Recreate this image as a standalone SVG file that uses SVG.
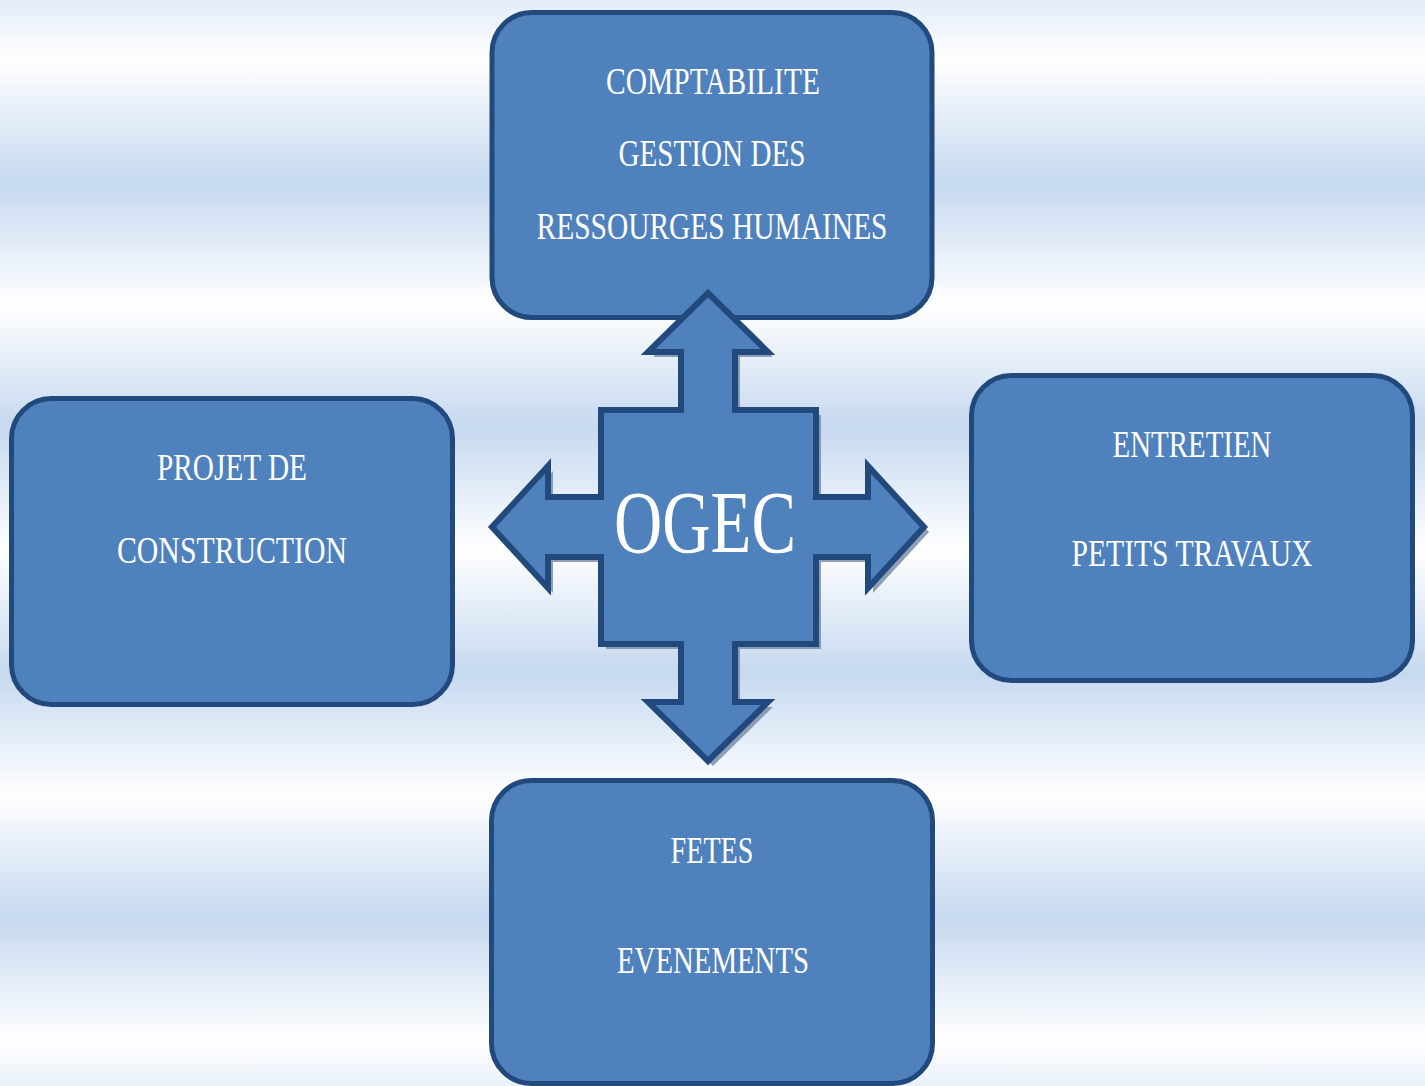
<svg xmlns="http://www.w3.org/2000/svg" width="1425" height="1086" viewBox="0 0 1425 1086">
  <defs>
    <linearGradient id="bg" gradientUnits="userSpaceOnUse" x1="0" y1="60" x2="0" y2="305" spreadMethod="repeat">
      <stop offset="0" stop-color="#ffffff"/>
      <stop offset="0.5" stop-color="#c6d9f0"/>
      <stop offset="1" stop-color="#ffffff"/>
    </linearGradient>
  </defs>
  <style>
    .box { fill: #4f81bd; stroke: #21497c; stroke-width: 5; }
    .lbl { fill: #ffffff; font-family: "Liberation Serif", "DejaVu Serif", serif; font-size: 38px; text-anchor: middle; }
    .cross { fill: #4f81bd; stroke: #21497c; stroke-width: 6; stroke-linejoin: miter; }
    .shadow { fill: #7d8ea8; opacity: 0.85; }
    .big { fill: #ffffff; font-family: "Liberation Serif", "DejaVu Serif", serif; font-size: 89px; text-anchor: middle; }
  </style>
  <rect x="0" y="0" width="1425" height="1086" fill="url(#bg)"/>

  <g id="node-comptabilite">
    <rect class="box" x="492" y="12.5" width="440" height="305" rx="40"/>
    <text class="lbl" x="713" y="94" textLength="214" lengthAdjust="spacingAndGlyphs">COMPTABILITE</text>
    <text class="lbl" x="712" y="166" textLength="187" lengthAdjust="spacingAndGlyphs">GESTION DES</text>
    <text class="lbl" x="712" y="239" textLength="351" lengthAdjust="spacingAndGlyphs">RESSOURGES HUMAINES</text>
  </g>

  <g id="node-entretien">
    <rect class="box" x="971.5" y="375.5" width="441" height="305" rx="40"/>
    <text class="lbl" x="1192" y="457" textLength="159" lengthAdjust="spacingAndGlyphs">ENTRETIEN</text>
    <text class="lbl" x="1192" y="566" textLength="241" lengthAdjust="spacingAndGlyphs">PETITS TRAVAUX</text>
  </g>

  <g id="node-projet">
    <rect class="box" x="11.5" y="398.5" width="441" height="306" rx="40"/>
    <text class="lbl" x="232" y="480" textLength="150" lengthAdjust="spacingAndGlyphs">PROJET DE</text>
    <text class="lbl" x="232" y="563" textLength="230" lengthAdjust="spacingAndGlyphs">CONSTRUCTION</text>
  </g>

  <g id="node-fetes">
    <rect class="box" x="491.5" y="780.5" width="441" height="303" rx="40"/>
    <text class="lbl" x="712" y="863" textLength="83" lengthAdjust="spacingAndGlyphs">FETES</text>
    <text class="lbl" x="713" y="973" textLength="192" lengthAdjust="spacingAndGlyphs">EVENEMENTS</text>
  </g>

  <g id="connectors">
    <path class="shadow" transform="translate(5,5)" d="M708,293 L768,352 L735,352 L735,410 L816,410 L816,497 L868,497 L868,466 L924,527 L868,588 L868,557 L816,557 L816,644 L735,644 L735,702 L768,702 L708,761 L648,702 L681,702 L681,644 L601,644 L601,557 L548,557 L548,588 L492,527 L548,466 L548,497 L601,497 L601,410 L681,410 L681,352 L648,352 Z"/>
    <path class="cross" d="M708,293 L768,352 L735,352 L735,410 L816,410 L816,497 L868,497 L868,466 L924,527 L868,588 L868,557 L816,557 L816,644 L735,644 L735,702 L768,702 L708,761 L648,702 L681,702 L681,644 L601,644 L601,557 L548,557 L548,588 L492,527 L548,466 L548,497 L601,497 L601,410 L681,410 L681,352 L648,352 Z"/>
  </g>

  <g id="node-ogec">
    <text class="big" x="705" y="552" textLength="182" lengthAdjust="spacingAndGlyphs">OGEC</text>
  </g>
</svg>
